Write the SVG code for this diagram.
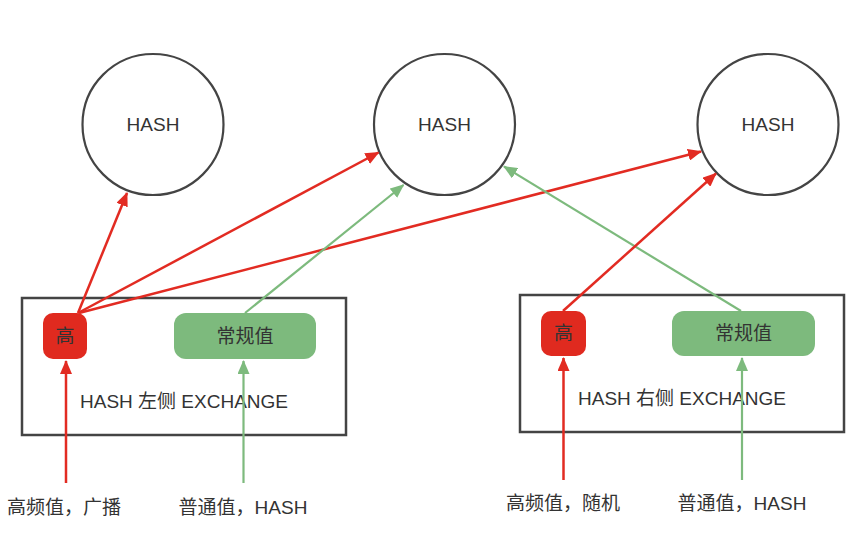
<svg xmlns="http://www.w3.org/2000/svg" width="853" height="541" viewBox="0 0 853 541">
<style>
.t{font-family:"Liberation Sans","Noto Sans CJK SC",sans-serif;font-size:19px;fill:#333;}
.c{fill:#fff;stroke:#444;stroke-width:2.2;}
.box{fill:#fff;stroke:#444;stroke-width:2.5;}
.red{fill:#e02a1f;}
.green{fill:#7dba7d;}
.lr{stroke:#e22b22;stroke-width:2.5;fill:none;marker-end:url(#ar);}
.lg{stroke:#7dba7d;stroke-width:2.2;fill:none;marker-end:url(#ag);}
</style>
<defs>
<marker id="ar" markerUnits="userSpaceOnUse" markerWidth="14" markerHeight="12" refX="13" refY="6" orient="auto"><path d="M0,0 L14,6 L0,12 z" fill="#e22b22"/></marker>
<marker id="ag" markerUnits="userSpaceOnUse" markerWidth="14" markerHeight="12" refX="13" refY="6" orient="auto"><path d="M0,0 L14,6 L0,12 z" fill="#7dba7d"/></marker>
</defs>
<rect width="853" height="541" fill="#fff"/>
<g id="hash1"><circle class="c" cx="153" cy="124.5" r="70.5"/><text class="t" x="153" y="131" text-anchor="middle">HASH</text></g>
<g id="hash2"><circle class="c" cx="444.5" cy="124.5" r="70.5"/><text class="t" x="444.5" y="131" text-anchor="middle">HASH</text></g>
<g id="hash3"><circle class="c" cx="768" cy="124.5" r="70.5"/><text class="t" x="768" y="131" text-anchor="middle">HASH</text></g>
<g id="left-exchange"><rect class="box" x="22" y="298" width="324" height="137"/><text class="t" x="184" y="408" text-anchor="middle">HASH 左侧 EXCHANGE</text></g>
<g id="right-exchange"><rect class="box" x="520" y="295" width="324" height="137"/><text class="t" x="682" y="405" text-anchor="middle">HASH 右侧 EXCHANGE</text></g>
<g id="left-high"><rect class="red" x="43" y="313" width="44" height="46" rx="10"/><text class="t" x="65" y="343" text-anchor="middle">高</text></g>
<g id="left-normal"><rect class="green" x="174" y="313" width="142" height="46" rx="12"/><text class="t" x="245" y="343" text-anchor="middle">常规值</text></g>
<g id="right-high"><rect class="red" x="541" y="311" width="45" height="45" rx="10"/><text class="t" x="563.5" y="340" text-anchor="middle">高</text></g>
<g id="right-normal"><rect class="green" x="672" y="311" width="143" height="45" rx="12"/><text class="t" x="743.5" y="340" text-anchor="middle">常规值</text></g>
<g id="labels">
<text class="t" x="64" y="514" text-anchor="middle">高频值，广播</text>
<text class="t" x="243" y="514" text-anchor="middle">普通值，HASH</text>
<text class="t" x="563" y="510" text-anchor="middle">高频值，随机</text>
<text class="t" x="742" y="510" text-anchor="middle">普通值，HASH</text>
</g>
<g id="connectors">
<line class="lr" x1="66" y1="483" x2="66" y2="361"/>
<line class="lg" x1="243.5" y1="483" x2="243.5" y2="361"/>
<line class="lr" x1="563.5" y1="480" x2="563.5" y2="358"/>
<line class="lg" x1="742" y1="480" x2="742" y2="358"/>
<line class="lr" x1="78" y1="313" x2="127" y2="193"/>
<line class="lr" x1="78" y1="313" x2="378.5" y2="152.5"/>
<line class="lr" x1="79" y1="313" x2="701" y2="151.5"/>
<line class="lg" x1="245" y1="313" x2="403.5" y2="185"/>
<line class="lg" x1="741" y1="311" x2="504" y2="166.5"/>
<line class="lr" x1="563" y1="311" x2="716" y2="173.5"/>
</g>
</svg>
